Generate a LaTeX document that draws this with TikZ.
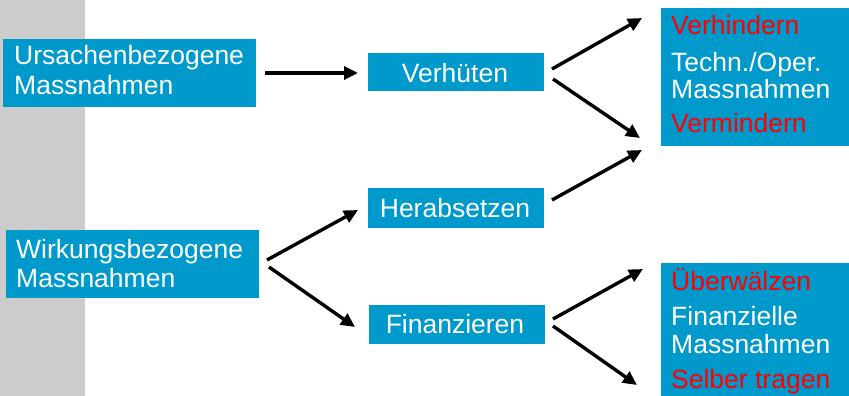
\documentclass[tikz,border=0pt]{standalone}
\usepackage{fontspec}
\setmainfont{Liberation Sans}
\usetikzlibrary{arrows.meta}
\definecolor{boxblue}{HTML}{0099CC}
\definecolor{strip}{HTML}{CCCCCC}
\definecolor{redtxt}{HTML}{FF0000}
\begin{document}
\begin{tikzpicture}[x=1pt,y=-1pt,
  bx/.style={fill=boxblue,draw=none,inner sep=0pt,anchor=north west},
  txt/.style={text=white,font=\fontsize{26.5}{28}\selectfont,anchor=base west,inner sep=0pt},
  rtxt/.style={txt,text=redtxt},
  ctxt/.style={text=white,font=\fontsize{26.5}{28}\selectfont,inner sep=0pt},
  arr/.style={line width=3.4pt,-{Triangle[length=14pt,width=13pt]}}]
\useasboundingbox (0,0) rectangle (849,396);
\fill[strip] (0,0) rectangle (85,396);
% left boxes
\node[bx,minimum width=253pt,minimum height=68pt] (ursB) at (3,39) {};
\node[txt] (ursT1) at (14,65) {Ursachenbezogene};
\node[txt] (ursT2) at (14,95) {Massnahmen};
\node[bx,minimum width=253pt,minimum height=68pt] (wirB) at (6,230) {};
\node[txt] (wirT1) at (16,258) {Wirkungsbezogene};
\node[txt] (wirT2) at (16,287) {Massnahmen};
% middle boxes
\node[bx,minimum width=176pt,minimum height=38pt] (verB) at (368,53) {};
\node[ctxt,anchor=base] (verT) at (455,82) {Verhüten};
\node[bx,minimum width=176pt,minimum height=40pt] (herB) at (368,188) {};
\node[ctxt,anchor=base] (herT) at (455,217) {Herabsetzen};
\node[bx,minimum width=176pt,minimum height=39pt] (finB) at (369,305) {};
\node[ctxt,anchor=base] (finT) at (455,333) {Finanzieren};
% right boxes
\node[bx,minimum width=188pt,minimum height=138pt] (topB) at (661,8) {};
\node[rtxt] (t1) at (671,35) {Verhindern};
\node[txt] (t2) at (671,72) {Techn./Oper.};
\node[txt] (t3) at (671,99) {Massnahmen};
\node[rtxt] (t4) at (671,132) {Vermindern};
\node[bx,minimum width=188pt,minimum height=133pt] (botB) at (661,263) {};
\node[rtxt] (b1) at (671,290) {Überwälzen};
\node[txt] (b2) at (671,325) {Finanzielle};
\node[txt] (b3) at (671,353) {Massnahmen};
\node[rtxt] (b4) at (671,388) {Selber tragen};
% arrow endpoints
\coordinate (a1s) at (265,73); \coordinate (a1e) at (358,73);
\coordinate (a2s) at (552,69); \coordinate (a2e) at (642,18);
\coordinate (a3s) at (553,79); \coordinate (a3e) at (640,138);
\coordinate (a4s) at (552,200); \coordinate (a4e) at (642,150);
\coordinate (a5s) at (267,260); \coordinate (a5e) at (358,210);
\coordinate (a6s) at (269,267); \coordinate (a6e) at (355,327);
\coordinate (a7s) at (553,319); \coordinate (a7e) at (643,269);
\coordinate (a8s) at (553,326); \coordinate (a8e) at (637,385);
\draw[arr] (a1s) -- (a1e);
\draw[arr] (a2s) -- (a2e);
\draw[arr] (a3s) -- (a3e);
\draw[arr] (a4s) -- (a4e);
\draw[arr] (a5s) -- (a5e);
\draw[arr] (a6s) -- (a6e);
\draw[arr] (a7s) -- (a7e);
\draw[arr] (a8s) -- (a8e);
\end{tikzpicture}
\end{document}
